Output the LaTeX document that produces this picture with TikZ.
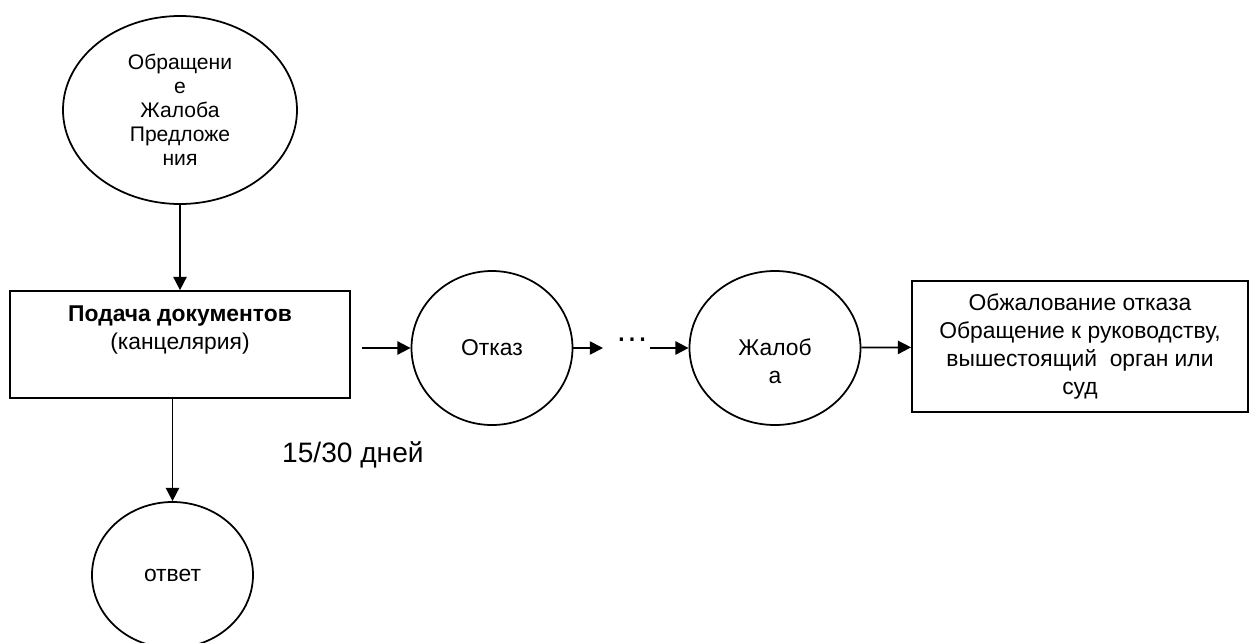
\documentclass[tikz,border=0pt]{standalone}
\usepackage{fontspec}
\setmainfont{Liberation Sans}
\usetikzlibrary{arrows.meta, shapes.geometric}

\begin{document}
\begin{tikzpicture}[
    every node/.style={font=\fontsize{13}{15.9}\selectfont},
    oval/.style={draw, line width=1pt, ellipse, inner sep=0pt},
    box/.style={draw, line width=1pt, rectangle},
    arr/.style={line width=1pt, -{Triangle[length=7.5pt,width=7.5pt]}}
]
    \useasboundingbox (0,0) rectangle (25,-12.84);

    % Obrashchenie (top)
    \node[oval, minimum width=4.68cm, minimum height=3.76cm, align=center,
          font=\fontsize{12}{13.6}\selectfont] (obr) at (3.6,-2.2)
          {Обращени\\е\\Жалоба\\Предложе\\ния};

    % Podacha dokumentov
    \node[box, minimum width=6.8cm, minimum height=2.14cm] (podacha) at (3.6,-6.89) {};
    \node[align=center] (podachatxt) at (3.6,-6.6) {\textbf{Подача документов}\\(канцелярия)};
    \draw[arr] (obr) -- (podacha);

    % Otvet
    \node[oval, minimum width=3.22cm, minimum height=2.92cm] (otvet) at (3.45,-11.5) {ответ};
    \draw[arr] (podacha.south -| otvet) -- (otvet);
    \node[anchor=west, font=\fontsize{16}{19}\selectfont] (srok) at (5.52,-9.1) {15/30 дней};

    % Otkaz
    \coordinate (vhod) at (7.24,-6.96);
    \node[oval, minimum width=3.22cm, minimum height=3.08cm] (otkaz) at (9.84,-6.96) {Отказ};
    \draw[arr] (vhod) -- (otkaz);

    % dots
    \node[inner sep=0pt, font=\fontsize{19}{19}\selectfont] (dots) at (12.64,-6.8) {…};
    \coordinate (dotsin) at (12.06,-6.96);
    \coordinate (dotsout) at (13.0,-6.96);
    \draw[arr] (otkaz) -- (dotsin);

    % Zhaloba
    \node[oval, minimum width=3.42cm, minimum height=3.08cm,
          label={[align=center, yshift=-0.26cm]center:Жалоб\\а}] (zhaloba) at (15.5,-6.96) {};
    \draw[arr] (dotsout) -- (zhaloba);

    % Obzhalovanie
    \node[box, minimum width=6.72cm, minimum height=2.62cm, align=center] (obzh) at (21.6,-6.93)
        {Обжалование отказа\\Обращение к руководству,\\вышестоящий \ орган или\\суд};
    \draw[arr] (zhaloba) -- (obzh);
\end{tikzpicture}
\end{document}
